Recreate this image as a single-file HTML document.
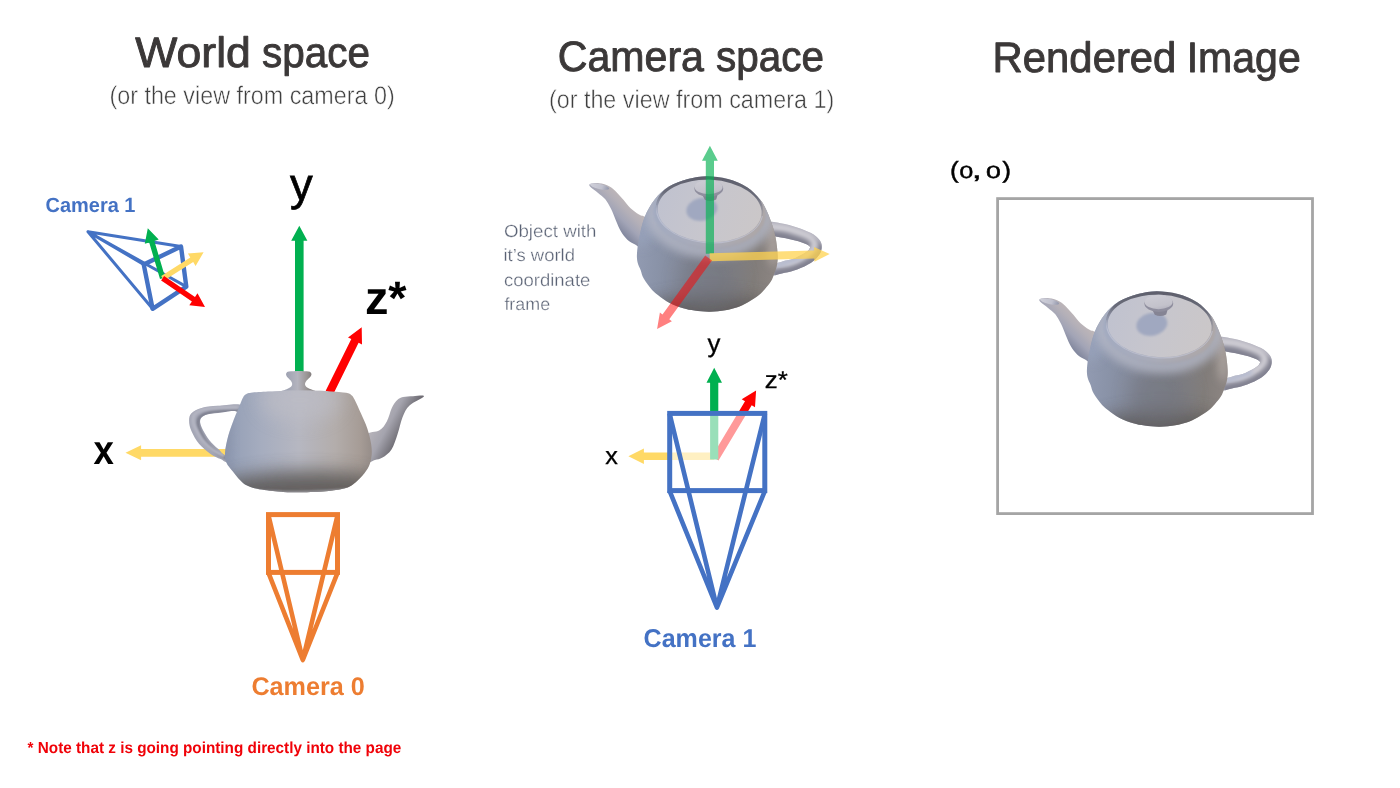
<!DOCTYPE html>
<html lang="en">
<head>
<meta charset="utf-8">
<title>World space, camera space and rendered image</title>
<style>
html,body{margin:0;padding:0;background:#fff;}
body{width:1400px;height:788px;overflow:hidden;font-family:"Liberation Sans",sans-serif;}
svg{display:block;}
text{font-family:"Liberation Sans",sans-serif;text-rendering:geometricPrecision;}
.t{fill:#3b3838;stroke:#3b3838;stroke-width:.9px;stroke-linejoin:round;}
.s{fill:#3f3f3f;stroke:#fff;stroke-width:.5px;}
.ax{fill:#000;}
.b{font-weight:bold;}
</style>
</head>
<body>
<svg width="1400" height="788" viewBox="0 0 1400 788" role="img" aria-label="World space, camera space and rendered image diagram">
<defs>
  <filter id="soft" x="-5%" y="-5%" width="110%" height="110%"><feGaussianBlur stdDeviation="0.55"/></filter>
  <filter id="b1" x="-20%" y="-20%" width="140%" height="140%"><feGaussianBlur stdDeviation="1.2"/></filter>
  <filter id="b6" x="-50%" y="-50%" width="200%" height="200%"><feGaussianBlur stdDeviation="6"/></filter>
  <filter id="b8" x="-50%" y="-50%" width="200%" height="200%"><feGaussianBlur stdDeviation="9"/></filter>
  <linearGradient id="gBodyR" gradientUnits="userSpaceOnUse" x1="1087" y1="355" x2="1228" y2="368">
    <stop offset="0" stop-color="#929bb2"/><stop offset=".16" stop-color="#8a93a8"/><stop offset=".4" stop-color="#818695"/><stop offset=".6" stop-color="#7f8088"/><stop offset=".85" stop-color="#827d7a"/><stop offset="1" stop-color="#8c8582"/>
  </linearGradient>
  <linearGradient id="gLidR" gradientUnits="userSpaceOnUse" x1="1110" y1="310" x2="1210" y2="340">
    <stop offset="0" stop-color="#c0c2cf"/><stop offset="0.5" stop-color="#c7c6cd"/><stop offset="1" stop-color="#cbc7c8"/>
  </linearGradient>
  <linearGradient id="gKnobR" gradientUnits="userSpaceOnUse" x1="1157" y1="294" x2="1160" y2="311">
    <stop offset="0" stop-color="#cdccd4"/><stop offset=".7" stop-color="#c3c2cb"/><stop offset="1" stop-color="#b0afbc"/>
  </linearGradient>
  <linearGradient id="gSpoutR" gradientUnits="userSpaceOnUse" x1="1084" y1="318" x2="1062" y2="340">
    <stop offset="0" stop-color="#c2b9b8"/><stop offset="0.35" stop-color="#b4b0b8"/><stop offset="0.65" stop-color="#a2a4b6"/><stop offset="1" stop-color="#7f859c"/>
  </linearGradient>
  <linearGradient id="gHandleR_unused" gradientUnits="userSpaceOnUse" x1="1240" y1="338" x2="1250" y2="390">
    <stop offset="0" stop-color="#bdbbc4"/><stop offset=".3" stop-color="#aaa9b6"/><stop offset=".6" stop-color="#a09fae"/><stop offset="1" stop-color="#b0b1c0"/>
  </linearGradient>
  <linearGradient id="gDarkRim" gradientUnits="userSpaceOnUse" x1="1159" y1="291" x2="1159" y2="332">
    <stop offset="0" stop-color="#5e5f6b"/><stop offset=".45" stop-color="#6a6c7a"/><stop offset="1" stop-color="#8a8fa3" stop-opacity="0"/>
  </linearGradient>
  <linearGradient id="gRimR" gradientUnits="userSpaceOnUse" x1="1105" y1="330" x2="1215" y2="340">
    <stop offset="0" stop-color="#a3abc1"/><stop offset=".5" stop-color="#a9abb8"/><stop offset="1" stop-color="#aea7a6"/>
  </linearGradient>
  <linearGradient id="gOpenR" gradientUnits="userSpaceOnUse" x1="1040" y1="300" x2="1060" y2="303">
    <stop offset="0" stop-color="#d0d0da"/><stop offset=".6" stop-color="#c0c1ce"/><stop offset="1" stop-color="#8b90a6"/>
  </linearGradient>
  <clipPath id="cHandR"><path d="M1213.0 337.2C1215.9 335.2 1224.9 337.3 1230.6 338.2C1236.3 339.1 1242.0 340.8 1247.1 342.4C1252.2 344.0 1257.4 346.1 1261.1 348.1C1264.8 350.2 1267.6 352.5 1269.4 354.7C1271.2 356.9 1271.8 358.8 1271.8 361.3C1271.8 363.8 1271.2 366.9 1269.4 369.6C1267.6 372.4 1264.8 375.3 1261.1 377.8C1257.4 380.3 1251.5 382.8 1247.1 384.4C1242.7 386.0 1239.4 386.9 1234.7 387.7C1230.0 388.5 1222.1 392.3 1219.0 389.4C1215.9 386.4 1217.0 376.6 1216.0 370.0C1215.0 363.4 1213.5 355.5 1213.0 350.0C1212.5 344.5 1210.1 339.2 1213.0 337.2ZM1218.0 350.6C1219.0 348.4 1223.4 351.2 1226.9 351.8C1230.4 352.4 1234.9 353.0 1238.9 353.9C1243.0 354.8 1247.7 355.9 1251.2 357.2C1254.7 358.5 1259.1 360.0 1259.9 361.7C1260.7 363.4 1258.6 365.2 1256.2 367.1C1253.8 369.0 1249.0 371.4 1245.4 372.9C1241.8 374.3 1238.3 375.0 1234.7 375.8C1231.1 376.6 1226.3 379.4 1224.0 377.6C1221.7 375.8 1222.0 369.5 1221.0 365.0C1220.0 360.5 1217.0 352.8 1218.0 350.6Z" clip-rule="evenodd"/></clipPath>
  <clipPath id="cHandW"><path d="M242.0 405.2C238.7 402.8 224.7 405.2 218.0 405.7C211.3 406.1 206.0 406.6 201.6 407.9C197.2 409.2 193.5 411.1 191.4 413.3C189.3 415.5 189.1 417.9 189.1 420.9C189.1 423.8 189.8 427.2 191.4 431.0C193.1 434.8 195.8 440.0 199.0 443.8C202.2 447.6 206.9 451.4 210.5 453.9C214.1 456.4 217.7 457.8 220.6 459.0C223.5 460.2 226.1 464.2 228.0 461.0C229.9 457.8 230.3 446.8 232.0 440.0C233.7 433.2 236.3 425.8 238.0 420.0C239.7 414.2 245.3 407.6 242.0 405.2ZM238.0 412.6C235.8 408.9 223.4 412.5 218.0 412.9C212.6 413.3 208.3 413.9 205.4 415.0C202.5 416.1 200.9 417.6 200.3 419.6C199.7 421.7 200.1 423.9 201.6 427.3C203.1 430.7 206.5 436.4 209.2 440.0C211.9 443.6 215.2 446.4 218.0 448.8C220.8 451.2 223.8 456.8 226.0 454.5C228.2 452.2 229.0 442.0 231.0 435.0C233.0 428.0 240.2 416.3 238.0 412.6Z" clip-rule="evenodd"/></clipPath>
  <filter id="b05" x="-10%" y="-10%" width="120%" height="120%"><feGaussianBlur stdDeviation="0.6"/></filter>
  <filter id="b7" x="-50%" y="-50%" width="200%" height="200%"><feGaussianBlur stdDeviation="7"/></filter>
  <filter id="b2" x="-20%" y="-20%" width="140%" height="140%"><feGaussianBlur stdDeviation="2"/></filter>
  <filter id="b4" x="-50%" y="-50%" width="200%" height="200%"><feGaussianBlur stdDeviation="4"/></filter>
  <clipPath id="cBodyR"><path d="M1157.0 291.2C1163.7 291.2 1171.3 292.2 1178.0 294.0C1184.7 295.8 1191.8 298.8 1197.1 302.2C1202.4 305.6 1206.6 310.6 1209.8 314.3C1213.0 318.0 1214.2 320.6 1216.1 324.4C1218.0 328.2 1219.6 332.5 1221.2 337.1C1222.8 341.7 1224.4 346.5 1225.5 352.0C1226.6 357.5 1227.5 365.4 1227.7 370.0C1228.0 374.6 1227.5 377.0 1227.0 379.9C1226.5 382.8 1225.7 384.7 1224.7 387.5C1223.7 390.3 1222.6 393.8 1220.9 396.6C1219.2 399.4 1216.8 401.9 1214.8 404.2C1212.8 406.5 1211.5 408.1 1208.7 410.3C1205.9 412.5 1201.7 415.2 1198.0 417.2C1194.3 419.2 1190.4 421.2 1186.6 422.5C1182.8 423.8 1179.6 424.5 1175.2 425.2C1170.8 425.9 1165.1 426.6 1160.0 426.7C1154.9 426.8 1149.2 426.2 1144.7 425.6C1140.2 425.0 1137.5 424.6 1133.3 423.3C1129.1 422.0 1123.4 419.8 1119.6 417.9C1115.8 416.0 1113.3 414.0 1110.4 411.9C1107.5 409.8 1104.9 408.1 1102.1 405.0C1099.3 401.9 1095.6 396.9 1093.7 393.6C1091.8 390.3 1091.7 387.9 1090.7 385.2C1089.7 382.5 1088.2 380.5 1087.6 377.6C1087.0 374.7 1086.7 372.4 1087.0 368.0C1087.3 363.6 1088.3 357.0 1089.6 351.0C1090.9 345.0 1092.2 338.1 1094.7 332.0C1097.2 325.9 1100.9 319.4 1104.9 314.3C1108.9 309.2 1113.3 305.0 1118.8 301.6C1124.3 298.2 1131.5 295.7 1137.9 294.0C1144.3 292.3 1150.3 291.2 1157.0 291.2Z"/></clipPath>

  <linearGradient id="gBodyW" gradientUnits="userSpaceOnUse" x1="225" y1="440" x2="372" y2="440">
    <stop offset="0" stop-color="#8c96ae"/><stop offset="0.08" stop-color="#98a2b8"/><stop offset="0.25" stop-color="#a6adbf"/><stop offset="0.5" stop-color="#b6b7c1"/><stop offset="0.75" stop-color="#b3adab"/><stop offset="0.92" stop-color="#a69c96"/><stop offset="1" stop-color="#968d89"/>
  </linearGradient>
  <linearGradient id="gKnobW" gradientUnits="userSpaceOnUse" x1="286" y1="380" x2="312" y2="380">
    <stop offset="0" stop-color="#9ea2b2"/><stop offset="0.45" stop-color="#b4b4be"/><stop offset="0.8" stop-color="#9a9595"/><stop offset="1" stop-color="#807b7b"/>
  </linearGradient>
  <linearGradient id="gSpoutW" gradientUnits="userSpaceOnUse" x1="380" y1="415" x2="404" y2="428">
    <stop offset="0" stop-color="#b5b2b9"/><stop offset="0.45" stop-color="#a5a4ae"/><stop offset="1" stop-color="#6f6d74"/>
  </linearGradient>
  <linearGradient id="gHandleW_unused" gradientUnits="userSpaceOnUse" x1="190" y1="405" x2="215" y2="460">
    <stop offset="0" stop-color="#a0a3b2"/><stop offset=".5" stop-color="#a9acbb"/><stop offset="1" stop-color="#9c9fae"/>
  </linearGradient>
  <clipPath id="cBodyW"><path d="M245.5 394.6C246.9 393.7 247.2 393.3 251.0 392.8C254.8 392.3 262.1 392.0 268.0 391.6C273.9 391.2 279.5 390.8 286.6 390.6C293.7 390.4 303.5 390.4 310.7 390.5C317.9 390.6 324.1 391.0 330.0 391.4C335.9 391.8 342.4 392.2 346.0 392.8C349.6 393.4 350.0 394.0 351.5 395.2C353.0 396.4 353.2 397.0 354.8 400.0C356.4 403.0 358.8 408.6 360.9 413.3C363.0 418.1 365.6 423.4 367.3 428.5C369.0 433.6 370.4 439.3 371.1 443.8C371.8 448.3 372.0 452.0 371.6 455.7C371.2 459.4 370.5 462.7 369.0 466.0C367.5 469.3 365.1 472.5 362.5 475.5C359.9 478.5 356.4 481.9 353.5 484.0C350.6 486.1 349.1 487.2 345.0 488.3C340.9 489.4 336.1 490.2 328.6 490.9C321.1 491.6 308.3 492.2 300.0 492.3C291.7 492.4 285.8 492.2 278.6 491.6C271.5 491.0 262.5 489.9 257.1 488.8C251.7 487.7 248.8 486.5 246.0 485.0C243.2 483.5 242.2 482.2 240.0 480.0C237.8 477.8 235.1 474.3 232.9 471.5C230.7 468.7 227.9 466.1 226.6 463.0C225.3 459.9 224.7 457.4 225.0 452.9C225.3 448.4 226.8 441.4 228.2 436.1C229.6 430.8 231.4 426.0 233.3 420.9C235.2 415.8 238.1 409.4 239.6 405.7C241.1 402.0 241.5 400.4 242.5 398.5C243.5 396.6 244.1 395.6 245.5 394.6Z"/></clipPath>
  
<g id="tpr" filter="url(#soft)">
  <path d="M1213.0 337.2C1215.9 335.2 1224.9 337.3 1230.6 338.2C1236.3 339.1 1242.0 340.8 1247.1 342.4C1252.2 344.0 1257.4 346.1 1261.1 348.1C1264.8 350.2 1267.6 352.5 1269.4 354.7C1271.2 356.9 1271.8 358.8 1271.8 361.3C1271.8 363.8 1271.2 366.9 1269.4 369.6C1267.6 372.4 1264.8 375.3 1261.1 377.8C1257.4 380.3 1251.5 382.8 1247.1 384.4C1242.7 386.0 1239.4 386.9 1234.7 387.7C1230.0 388.5 1222.1 392.3 1219.0 389.4C1215.9 386.4 1217.0 376.6 1216.0 370.0C1215.0 363.4 1213.5 355.5 1213.0 350.0C1212.5 344.5 1210.1 339.2 1213.0 337.2ZM1218.0 350.6C1219.0 348.4 1223.4 351.2 1226.9 351.8C1230.4 352.4 1234.9 353.0 1238.9 353.9C1243.0 354.8 1247.7 355.9 1251.2 357.2C1254.7 358.5 1259.1 360.0 1259.9 361.7C1260.7 363.4 1258.6 365.2 1256.2 367.1C1253.8 369.0 1249.0 371.4 1245.4 372.9C1241.8 374.3 1238.3 375.0 1234.7 375.8C1231.1 376.6 1226.3 379.4 1224.0 377.6C1221.7 375.8 1222.0 369.5 1221.0 365.0C1220.0 360.5 1217.0 352.8 1218.0 350.6Z" fill="#acabb8" fill-rule="evenodd"/>
  <g clip-path="url(#cHandR)">
    <path d="M1216.0 344.3C1219.1 344.6 1229.2 345.1 1234.7 346.0C1240.2 346.9 1244.7 348.5 1249.0 350.0C1253.3 351.5 1258.0 353.1 1260.8 355.0C1263.6 356.9 1265.5 359.3 1265.8 361.5C1266.1 363.7 1264.7 366.1 1262.6 368.4C1260.5 370.7 1256.7 373.3 1253.0 375.3C1249.3 377.3 1245.9 379.2 1240.7 380.5C1235.5 381.8 1225.1 382.8 1222.0 383.3" fill="none" stroke="#828291" stroke-width="12" transform="translate(1.8 4.6)" filter="url(#b1)"/>
    <path d="M1216.0 344.3C1219.1 344.6 1229.2 345.1 1234.7 346.0C1240.2 346.9 1244.7 348.5 1249.0 350.0C1253.3 351.5 1258.0 353.1 1260.8 355.0C1263.6 356.9 1265.5 359.3 1265.8 361.5C1266.1 363.7 1264.7 366.1 1262.6 368.4C1260.5 370.7 1256.7 373.3 1253.0 375.3C1249.3 377.3 1245.9 379.2 1240.7 380.5C1235.5 381.8 1225.1 382.8 1222.0 383.3" fill="none" stroke="#cfcdd4" stroke-width="7" transform="translate(-1 -2.8)" filter="url(#b2)"/>
    <path d="M1226 380.6 L1252 371.6" fill="none" stroke="#b3b9cf" stroke-width="5" filter="url(#b2)"/>
  </g>
  <path d="M1039.3 299.9C1039.5 298.4 1045.6 297.9 1049.0 298.2C1052.4 298.4 1056.6 299.9 1059.6 301.4C1062.6 302.9 1064.5 305.1 1066.8 307.4C1069.1 309.7 1071.3 312.5 1073.6 315.1C1075.8 317.7 1077.7 320.5 1080.3 322.9C1082.9 325.3 1086.4 327.9 1089.0 329.6C1091.6 331.3 1094.2 330.4 1096.0 333.0C1097.8 335.6 1100.5 340.1 1100.0 345.0C1099.5 349.9 1095.5 360.1 1093.0 362.5C1090.5 364.9 1087.7 360.8 1085.1 359.5C1082.5 358.2 1079.8 356.9 1077.4 354.7C1075.0 352.4 1072.6 349.2 1070.7 346.0C1068.8 342.8 1067.5 339.1 1065.9 335.4C1064.3 331.7 1062.8 327.3 1061.0 323.8C1059.2 320.3 1057.5 316.9 1055.3 314.2C1053.0 311.5 1050.2 309.8 1047.5 307.4C1044.8 305.0 1039.0 301.4 1039.3 299.9Z" fill="url(#gSpoutR)"/>
  <ellipse cx="1049.5" cy="301.5" rx="9.8" ry="2.5" transform="rotate(13 1049.5 301.5)" fill="url(#gOpenR)"/>
  <path d="M1157.0 291.2C1163.7 291.2 1171.3 292.2 1178.0 294.0C1184.7 295.8 1191.8 298.8 1197.1 302.2C1202.4 305.6 1206.6 310.6 1209.8 314.3C1213.0 318.0 1214.2 320.6 1216.1 324.4C1218.0 328.2 1219.6 332.5 1221.2 337.1C1222.8 341.7 1224.4 346.5 1225.5 352.0C1226.6 357.5 1227.5 365.4 1227.7 370.0C1228.0 374.6 1227.5 377.0 1227.0 379.9C1226.5 382.8 1225.7 384.7 1224.7 387.5C1223.7 390.3 1222.6 393.8 1220.9 396.6C1219.2 399.4 1216.8 401.9 1214.8 404.2C1212.8 406.5 1211.5 408.1 1208.7 410.3C1205.9 412.5 1201.7 415.2 1198.0 417.2C1194.3 419.2 1190.4 421.2 1186.6 422.5C1182.8 423.8 1179.6 424.5 1175.2 425.2C1170.8 425.9 1165.1 426.6 1160.0 426.7C1154.9 426.8 1149.2 426.2 1144.7 425.6C1140.2 425.0 1137.5 424.6 1133.3 423.3C1129.1 422.0 1123.4 419.8 1119.6 417.9C1115.8 416.0 1113.3 414.0 1110.4 411.9C1107.5 409.8 1104.9 408.1 1102.1 405.0C1099.3 401.9 1095.6 396.9 1093.7 393.6C1091.8 390.3 1091.7 387.9 1090.7 385.2C1089.7 382.5 1088.2 380.5 1087.6 377.6C1087.0 374.7 1086.7 372.4 1087.0 368.0C1087.3 363.6 1088.3 357.0 1089.6 351.0C1090.9 345.0 1092.2 338.1 1094.7 332.0C1097.2 325.9 1100.9 319.4 1104.9 314.3C1108.9 309.2 1113.3 305.0 1118.8 301.6C1124.3 298.2 1131.5 295.7 1137.9 294.0C1144.3 292.3 1150.3 291.2 1157.0 291.2Z" fill="url(#gBodyR)"/>
  <g clip-path="url(#cBodyR)">
    <ellipse cx="1160" cy="433" rx="78" ry="22" fill="#5a5654" opacity=".8" filter="url(#b8)"/>
    <ellipse cx="1160" cy="395" rx="30" ry="30" fill="#72747e" opacity=".5" filter="url(#b8)"/>
    <ellipse cx="1093" cy="335" rx="12" ry="26" fill="#9aa4bd" opacity=".7" filter="url(#b6)"/>
    <ellipse cx="1223" cy="352" rx="6" ry="30" fill="#b3aaa6" opacity=".75" filter="url(#b4)"/>
    <ellipse cx="1159.5" cy="329" rx="57" ry="37" transform="rotate(3 1159.5 329)" fill="none" stroke="#b4b7c6" stroke-width="15" opacity=".8" filter="url(#b4)"/>
    <ellipse cx="1159.5" cy="328" rx="56" ry="35" transform="rotate(3 1159.5 328)" fill="url(#gRimR)" filter="url(#b1)"/>
    <path d="M1107 320 A53 32.2 3 0 0 1212.3 331" fill="none" stroke="#c6c9d9" stroke-width="1.2" opacity=".6" filter="url(#b05)"/>
    <ellipse cx="1159.5" cy="324.4" rx="53.8" ry="33.2" transform="rotate(3 1159.5 324.4)" fill="url(#gDarkRim)"/>
  </g>
  <ellipse cx="1159.6" cy="325.9" rx="52" ry="31.1" transform="rotate(3 1159.6 325.9)" fill="url(#gLidR)"/>
  <ellipse cx="1151.8" cy="324.3" rx="15.6" ry="11.4" transform="rotate(-12 1151.8 324.3)" fill="#a0a8c0" filter="url(#b1)"/>
  <path d="M1151 307 Q1159 313 1168.5 307 L1166.2 314.4 Q1160.4 317.6 1154.8 314.8Z" fill="#858494"/>
  <ellipse cx="1158.8" cy="303.6" rx="14.4" ry="8.3" fill="#8f8e9e"/>
  <ellipse cx="1158.6" cy="302" rx="14" ry="7.2" fill="url(#gKnobR)"/>
</g>
</defs>
<rect width="1400" height="788" fill="#fff"/>
<g opacity=".999">

<!-- ======== World space ======== -->
<text y="66.8" font-size="42.5" class="t"><tspan x="135.3" textLength="115.6" lengthAdjust="spacingAndGlyphs">World</tspan> <tspan x="262.1" textLength="107.9" lengthAdjust="spacingAndGlyphs">space</tspan></text>
<text y="103.8" font-size="25.5" class="s"><tspan x="109.4" textLength="285.4" lengthAdjust="spacingAndGlyphs">(or the view from camera 0)</tspan></text>

<text y="212.0" font-size="20.6" class="b" fill="#4472C4"><tspan x="45.5" textLength="89.9" lengthAdjust="spacingAndGlyphs">Camera 1</tspan></text>

<g stroke="#4472C4" fill="none" stroke-linejoin="round" stroke-linecap="round">
  <path d="M88 231.7 L181 246.6 M88 231.7 L143.7 264.4 M88 231.7 L152.6 308.8 M88 231.7 L186.3 286.6" stroke-width="3"/>
  <path d="M143.7 264.4 L181 246.6 L186.3 286.6 L152.6 308.8 Z" stroke-width="4.4"/>
</g>
<path d="M165.2 277.4L154.4 240.9L158.7 239.6L147.8 228.2L144.8 243.7L149.2 242.4L160.0 279.0Z" fill="#00B050"/>
<path d="M164.0 280.5L193.2 262.1L195.6 265.9L203.6 252.3L187.9 253.6L190.3 257.5L161.2 275.9Z" fill="#FFD966"/>
<path d="M161.1 280.4L191.9 301.4L189.3 305.2L205.0 307.1L197.5 293.2L195.0 297.0L164.1 276.0Z" fill="#FF0000"/>

<text y="199.8" font-size="45.5" class="ax" stroke="#000" stroke-width=".7"><tspan x="290.1" textLength="22.7" lengthAdjust="spacingAndGlyphs">y</tspan></text>
<path d="M303.6 372.0L303.6 240.7L307.4 240.7L299.3 225.7L291.2 240.7L295.0 240.7L295.0 372.0Z" fill="#00B050"/>
<text y="314.2" font-size="47.0" class="ax b"><tspan x="364.9" textLength="41.7" lengthAdjust="spacingAndGlyphs">z*</tspan></text>
<path d="M333.1 394.4L358.6 342.7L362.0 344.4L361.7 327.3L348.0 337.5L351.3 339.1L325.7 390.8Z" fill="#FF0000"/>
<text y="463.7" font-size="41.0" class="ax b"><tspan x="93.5" textLength="20.4" lengthAdjust="spacingAndGlyphs">x</tspan></text>
<path d="M235.0 448.9L141.1 448.9L141.1 445.3L125.5 452.8L141.1 460.3L141.1 456.7L235.0 456.7Z" fill="#FFD966"/>

<g id="tpw" filter="url(#soft)">
  <path d="M242.0 405.2C238.7 402.8 224.7 405.2 218.0 405.7C211.3 406.1 206.0 406.6 201.6 407.9C197.2 409.2 193.5 411.1 191.4 413.3C189.3 415.5 189.1 417.9 189.1 420.9C189.1 423.8 189.8 427.2 191.4 431.0C193.1 434.8 195.8 440.0 199.0 443.8C202.2 447.6 206.9 451.4 210.5 453.9C214.1 456.4 217.7 457.8 220.6 459.0C223.5 460.2 226.1 464.2 228.0 461.0C229.9 457.8 230.3 446.8 232.0 440.0C233.7 433.2 236.3 425.8 238.0 420.0C239.7 414.2 245.3 407.6 242.0 405.2ZM238.0 412.6C235.8 408.9 223.4 412.5 218.0 412.9C212.6 413.3 208.3 413.9 205.4 415.0C202.5 416.1 200.9 417.6 200.3 419.6C199.7 421.7 200.1 423.9 201.6 427.3C203.1 430.7 206.5 436.4 209.2 440.0C211.9 443.6 215.2 446.4 218.0 448.8C220.8 451.2 223.8 456.8 226.0 454.5C228.2 452.2 229.0 442.0 231.0 435.0C233.0 428.0 240.2 416.3 238.0 412.6Z" fill="#a4a6b5" fill-rule="evenodd"/>
  <g clip-path="url(#cHandW)">
    <path d="M240.0 408.9C236.3 409.0 224.1 408.9 218.0 409.3C211.9 409.7 207.2 410.3 203.5 411.5C199.8 412.7 197.2 414.3 195.8 416.4C194.4 418.5 194.5 421.6 194.8 424.0C195.1 426.4 196.0 428.0 197.5 431.0C199.0 434.0 201.2 438.5 204.0 441.9C206.8 445.3 210.5 448.7 214.2 451.3C217.9 453.9 224.0 456.6 226.0 457.6" fill="none" stroke="#7e808f" stroke-width="3.4" transform="translate(3.4 1.8)" filter="url(#b1)"/>
    <path d="M240.0 408.9C236.3 409.0 224.1 408.9 218.0 409.3C211.9 409.7 207.2 410.3 203.5 411.5C199.8 412.7 197.2 414.3 195.8 416.4C194.4 418.5 194.5 421.6 194.8 424.0C195.1 426.4 196.0 428.0 197.5 431.0C199.0 434.0 201.2 438.5 204.0 441.9C206.8 445.3 210.5 448.7 214.2 451.3C217.9 453.9 224.0 456.6 226.0 457.6" fill="none" stroke="#b4b5c2" stroke-width="3.5" transform="translate(-1.6 -1.6)" filter="url(#b1)"/>
  </g>
  <path d="M366.0 434.5C368.6 431.5 376.0 432.4 379.5 430.2C383.0 428.0 384.8 425.2 386.8 421.5C388.9 417.8 390.1 411.6 391.8 408.0C393.5 404.4 395.1 402.0 397.0 400.2C398.9 398.4 400.3 397.7 403.0 397.0C405.7 396.3 409.5 396.3 413.0 396.2C416.5 396.1 424.6 394.6 424.0 396.2C423.4 397.8 413.1 402.0 409.5 405.5C405.9 409.0 404.6 412.2 402.6 417.0C400.6 421.8 399.5 428.6 397.6 434.0C395.8 439.4 394.0 445.6 391.5 449.5C389.0 453.4 385.3 455.9 382.5 457.6C379.7 459.4 377.3 459.4 374.9 460.0C372.5 460.6 369.8 463.5 368.0 461.5C366.2 459.5 364.3 452.5 364.0 448.0C363.7 443.5 363.4 437.5 366.0 434.5Z" fill="url(#gSpoutW)"/>
  <path d="M286.2 373.6C286.6 372.8 286.9 372.0 289.0 371.6C291.1 371.2 295.4 371.0 298.6 371.0C301.9 371.0 306.4 371.2 308.5 371.6C310.6 372.0 310.9 372.8 311.3 373.6C311.7 374.4 311.4 375.2 310.6 376.4C309.8 377.6 307.5 379.3 306.6 380.6C305.7 381.9 305.1 383.0 305.0 384.0C304.9 385.0 305.4 386.0 306.2 386.8C306.9 387.6 308.2 388.2 309.5 388.8C310.8 389.4 312.2 389.7 314.0 390.4C315.8 391.1 319.0 391.7 320.0 393.0C321.0 394.3 327.2 397.2 320.0 398.0C312.8 398.8 284.2 398.8 277.0 398.0C269.8 397.2 275.9 394.3 277.0 393.0C278.1 391.7 281.7 391.1 283.5 390.4C285.3 389.7 286.4 389.4 287.6 388.8C288.9 388.2 290.2 387.6 291.0 386.8C291.8 386.0 292.2 385.0 292.2 384.0C292.1 383.0 291.6 381.9 290.7 380.6C289.8 379.3 287.6 377.6 286.8 376.4C286.1 375.2 285.8 374.4 286.2 373.6Z" fill="url(#gKnobW)"/>
  <path d="M245.5 394.6C246.9 393.7 247.2 393.3 251.0 392.8C254.8 392.3 262.1 392.0 268.0 391.6C273.9 391.2 279.5 390.8 286.6 390.6C293.7 390.4 303.5 390.4 310.7 390.5C317.9 390.6 324.1 391.0 330.0 391.4C335.9 391.8 342.4 392.2 346.0 392.8C349.6 393.4 350.0 394.0 351.5 395.2C353.0 396.4 353.2 397.0 354.8 400.0C356.4 403.0 358.8 408.6 360.9 413.3C363.0 418.1 365.6 423.4 367.3 428.5C369.0 433.6 370.4 439.3 371.1 443.8C371.8 448.3 372.0 452.0 371.6 455.7C371.2 459.4 370.5 462.7 369.0 466.0C367.5 469.3 365.1 472.5 362.5 475.5C359.9 478.5 356.4 481.9 353.5 484.0C350.6 486.1 349.1 487.2 345.0 488.3C340.9 489.4 336.1 490.2 328.6 490.9C321.1 491.6 308.3 492.2 300.0 492.3C291.7 492.4 285.8 492.2 278.6 491.6C271.5 491.0 262.5 489.9 257.1 488.8C251.7 487.7 248.8 486.5 246.0 485.0C243.2 483.5 242.2 482.2 240.0 480.0C237.8 477.8 235.1 474.3 232.9 471.5C230.7 468.7 227.9 466.1 226.6 463.0C225.3 459.9 224.7 457.4 225.0 452.9C225.3 448.4 226.8 441.4 228.2 436.1C229.6 430.8 231.4 426.0 233.3 420.9C235.2 415.8 238.1 409.4 239.6 405.7C241.1 402.0 241.5 400.4 242.5 398.5C243.5 396.6 244.1 395.6 245.5 394.6Z" fill="url(#gBodyW)"/>
  <g clip-path="url(#cBodyW)">
    <ellipse cx="300" cy="400" rx="40" ry="22" fill="#bdbdc6" opacity=".7" filter="url(#b8)"/>
    <ellipse cx="224" cy="440" rx="8" ry="36" fill="#8a94ad" opacity=".5" filter="url(#b6)"/>
    <ellipse cx="308" cy="503" rx="115" ry="32" fill="#5c5856" opacity=".9" filter="url(#b8)"/>
    <path d="M240 489.5 Q300 495.5 358 488.5" stroke="#9a999f" stroke-width="2.4" fill="none" filter="url(#b1)"/>
  </g>
</g>


<g stroke="#ED7D31" stroke-width="5" fill="none" stroke-linejoin="miter">
  <rect x="268.5" y="514.6" width="69" height="57.8"/>
  <path d="M268.3 514.6 L302.8 660 L337.7 514.6 M268.3 572.4 L302.8 660 L337.7 572.4" stroke-width="4.6" stroke-linejoin="round"/>
</g>
<text y="695.4" font-size="25.5" class="b" fill="#ED7D31"><tspan x="251.4" textLength="113.4" lengthAdjust="spacingAndGlyphs">Camera 0</tspan></text>
<text y="752.7" font-size="16.0" class="b" fill="#f00008"><tspan x="27.6" textLength="373.7" lengthAdjust="spacingAndGlyphs">* Note that z is going pointing directly into the page</tspan></text>

<!-- ======== Camera space ======== -->
<text y="70.9" font-size="42.5" class="t"><tspan x="557.7" textLength="146.3" lengthAdjust="spacingAndGlyphs">Camera</tspan> <tspan x="716.1" textLength="107.9" lengthAdjust="spacingAndGlyphs">space</tspan></text>
<text y="107.6" font-size="25.5" class="s"><tspan x="548.9" textLength="285.3" lengthAdjust="spacingAndGlyphs">(or the view from camera 1)</tspan></text>

<g font-size="17.5" fill="#5a6274" stroke="#fff" stroke-width=".3">
  <text y="236.5" font-size="17.5"><tspan x="503.9" textLength="92.5" lengthAdjust="spacingAndGlyphs">Object with</tspan></text>
  <text y="260.9" font-size="17.5"><tspan x="503.5" textLength="71.5" lengthAdjust="spacingAndGlyphs">it’s world</tspan></text>
  <text y="285.7" font-size="17.5"><tspan x="504.0" textLength="86.3" lengthAdjust="spacingAndGlyphs">coordinate</tspan></text>
  <text y="309.8" font-size="17.5"><tspan x="504.4" textLength="45.7" lengthAdjust="spacingAndGlyphs">frame</tspan></text>
</g>

<use href="#tpr" transform="translate(-450 -115)"/>
<path d="M714.0 253.7L714.0 160.7L717.8 160.7L709.9 145.7L702.0 160.7L705.8 160.7L705.8 253.7Z" fill="#00B050" opacity=".65"/>
<path d="M709.8 261.2L814.3 258.4L814.4 261.8L829.7 254.0L814.0 247.0L814.1 250.4L709.6 253.2Z" fill="#FFD34F" opacity=".75"/>
<path d="M705.2 255.6L662.5 314.4L659.9 312.5L657.1 329.0L671.9 321.2L669.3 319.3L712.0 260.4Z" fill="#FF0000" opacity=".5"/>

<text y="352.2" font-size="25.5" class="ax" stroke="#000" stroke-width=".3"><tspan x="707.5" textLength="12.9" lengthAdjust="spacingAndGlyphs">y</tspan></text>
<text y="387.8" font-size="24.0" class="ax" stroke="#000" stroke-width=".3"><tspan x="764.8" textLength="23.0" lengthAdjust="spacingAndGlyphs">z*</tspan></text>
<text y="464.2" font-size="24.5" class="ax" stroke="#000" stroke-width=".3"><tspan x="605.2" textLength="12.6" lengthAdjust="spacingAndGlyphs">x</tspan></text>
<path d="M714.2 452.5L643.9 452.5L643.9 448.4L628.4 456.2L643.9 463.9L643.9 459.9L714.2 459.9Z" fill="#FFD966"/>
<path d="M718.5 460.6L751.7 405.3L755.0 407.2L756.1 390.4L741.7 399.3L745.0 401.3L711.9 456.6Z" fill="#FF0000"/>
<path d="M718.3 459.6L718.3 382.8L722.0 382.8L714.2 367.7L706.5 382.8L710.1 382.8L710.1 459.6Z" fill="#00B050"/>

<g stroke="#4472C4" stroke-width="5" fill="none" stroke-linejoin="miter">
  <rect x="669.7" y="413.4" width="95.1" height="77.2" fill="#fff" fill-opacity=".6"/>
  <path d="M669.5 413.4 L716.9 607.5 L765 413.4 M669.5 490.6 L716.9 607.5 L765 490.6" stroke-width="4.6" stroke-linejoin="round"/>
</g>
<text y="647.1" font-size="25.8" class="b" fill="#4472C4"><tspan x="643.6" textLength="112.8" lengthAdjust="spacingAndGlyphs">Camera 1</tspan></text>

<!-- ======== Rendered Image ======== -->
<text y="71.8" font-size="42.5" class="t"><tspan x="992.6" textLength="183.8" lengthAdjust="spacingAndGlyphs">Rendered</tspan> <tspan x="1186.7" textLength="114.1" lengthAdjust="spacingAndGlyphs">Image</tspan></text>
<text y="178.2" class="ax" stroke="#000" stroke-width=".45"><tspan x="950.0" font-size="23.5" textLength="8.8" lengthAdjust="spacingAndGlyphs">(</tspan><tspan x="959.4" font-size="17.6" textLength="13.7" lengthAdjust="spacingAndGlyphs">0</tspan><tspan x="971.7" font-size="23.5" textLength="10.0" lengthAdjust="spacingAndGlyphs">,</tspan> <tspan x="986.0" font-size="17.6" textLength="14.8" lengthAdjust="spacingAndGlyphs">0</tspan><tspan x="1002.2" font-size="23.5" textLength="8.8" lengthAdjust="spacingAndGlyphs">)</tspan></text>
<rect x="997.6" y="198.6" width="314.9" height="315" fill="none" stroke="#A5A5A5" stroke-width="2.8"/>
<use href="#tpr"/>
</g>
</svg>
</body>
</html>
